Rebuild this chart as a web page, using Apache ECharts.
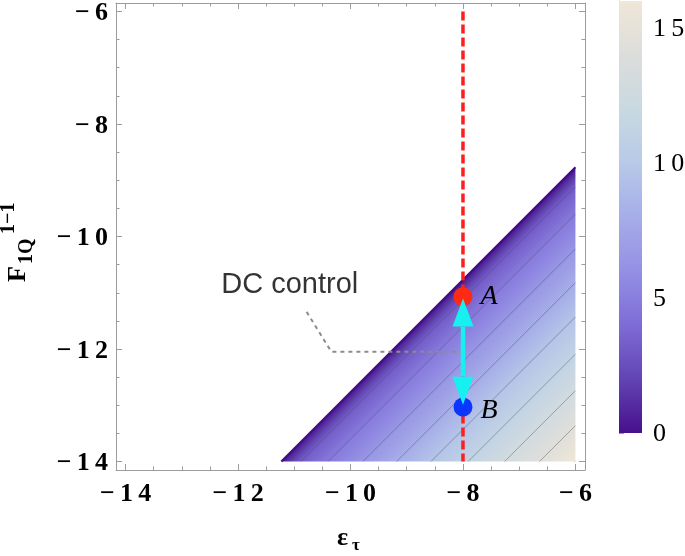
<!DOCTYPE html>
<html><head><meta charset="utf-8">
<script src="https://cdn.jsdelivr.net/npm/echarts@6/dist/echarts.min.js"></script>
<style>html,body{margin:0;padding:0;background:#fff}#main{width:685px;height:556px}</style>
</head><body><div id="main"></div>
<script>
// ---------- data ----------
const xMajorTicks = [-14, -12, -10, -8, -6];
const xMinorTicks = [-13.5, -13, -12.5, -11.5, -11, -10.5, -9.5, -9, -8.5, -7.5, -7, -6.5];
const yMajorTicks = [-14, -12, -10, -8, -6];
const yMinorTicks = [-13.5, -13, -12.5, -11.5, -11, -10.5, -9.5, -9, -8.5, -7.5, -7, -6.5];
const colorbarTicks = [0, 5, 10, 15];
const colorbarMinorTicks = [1, 2, 3, 4, 6, 7, 8, 9, 11, 12, 13, 14, 16];
// filled (allowed) region: triangle below the boundary line
const regionX = [-11.23, -6, -6];
const regionY = [-14, -8.77, -14];
// contour lines: value, x where it meets y=-14, y where it meets x=-6
const contourLevels = [1.6, 3.2, 4.8, 6.4, 8.0, 9.6, 11.2, 12.8, 14.4, 16.0];
const contourStartX = [-11.08, -10.88, -10.40, -9.78, -9.18, -8.57, -7.91, -7.26, -6.64, -6.01];
const contourEndY = [-8.92, -9.12, -9.60, -10.22, -10.82, -11.43, -12.09, -12.74, -13.36, -13.99];
// colour scale
const colorValues = [0, 2, 4, 6, 8, 10, 12, 14, 16];
const colorList = ['#48108c', '#6244b4', '#7e6cd6', '#9490e4', '#a6ade8', '#b7cae8', '#c9d9e1', '#dcdddb', '#efe7d7'];
// annotations
const pointA = [-8, -11.07];
const pointB = [-8, -13.03];
const criticalLineX = [-8, -8];
const criticalLineY = [-6, -14];
const arrowX = [-8, -8];
const arrowY = [-11.1, -12.99];
const leaderX = [-10.78, -10.34, -8];
const leaderY = [-11.34, -12.05, -12.05];
const dcLabelPos = [-11.08, -10.86];

// ---------- helpers ----------
function hexToRgb(h) { return [parseInt(h.substr(1,2),16), parseInt(h.substr(3,2),16), parseInt(h.substr(5,2),16)]; }
function cmap(v) {
  if (v <= colorValues[0]) return colorList[0];
  for (let i = 1; i < colorValues.length; i++) {
    if (v <= colorValues[i]) {
      const t = (v - colorValues[i-1]) / (colorValues[i] - colorValues[i-1]);
      const a = hexToRgb(colorList[i-1]), b = hexToRgb(colorList[i]);
      return 'rgb(' + a.map((c, j) => Math.round(c + (b[j]-c)*t)).join(',') + ')';
    }
  }
  return colorList[colorList.length-1];
}
const fmt = v => ((v < 0 ? '\u2212' : '') + Math.abs(v)).split('').join('\u2009');
const FRAME = '#9c9c9c';
const serif = 'Liberation Serif';
const BOLD26 = 'bold 26px "Liberation Serif"';
const REG26 = '26px "Liberation Serif"';

function renderField(params, api) {
  const pts = regionX.map((x, i) => api.coord([x, regionY[i]]));
  const base = regionX[0] - regionY[0];
  const D = (regionX[2] - regionY[2]) - base;
  const xb = regionX[1], yb = regionY[1];
  const p0 = api.coord([xb, yb]);
  const p1 = api.coord([xb + D/2, yb - D/2]);
  const stops = [{offset: 0, color: cmap(0)}];
  contourStartX.forEach((x0, k) => {
    const d = (x0 - regionY[0]) - base;
    stops.push({offset: Math.min(1, d / D), color: cmap(contourLevels[k])});
  });
  stops.push({offset: 1, color: cmap(contourLevels[contourLevels.length-1])});
  return {type: 'polygon', shape: {points: pts},
    style: {fill: new echarts.graphic.LinearGradient(p0[0], p0[1], p1[0], p1[1], stops, true)}};
}
function renderColorbar(params, api) {
  const p0 = api.coord([0, colorValues[0]]);
  const p1 = api.coord([1, colorValues[colorValues.length-1]]);
  const maxV = colorValues[colorValues.length-1];
  const stops = colorValues.map((v, i) => ({offset: v / maxV, color: colorList[i]}));
  return {type: 'rect', shape: {x: p0[0], y: p1[1], width: p1[0]-p0[0], height: p0[1]-p1[1]},
    style: {fill: new echarts.graphic.LinearGradient(0, 1, 0, 0, stops)}};
}
function renderArrow(params, api) {
  const a = api.coord([arrowX[0], arrowY[0]]);
  const b = api.coord([arrowX[1], arrowY[1]]);
  const dx = b[0]-a[0], dy = b[1]-a[1], len = Math.sqrt(dx*dx+dy*dy);
  const ux = dx/len, uy = dy/len, px = -uy, py = ux;
  const L = 28, W = 10.5;
  const a2 = [a[0]+ux*L, a[1]+uy*L], b2 = [b[0]-ux*L, b[1]-uy*L];
  const col = '#17f0f0';
  return {type: 'group', children: [
    {type: 'line', shape: {x1: a2[0], y1: a2[1], x2: b2[0], y2: b2[1]}, style: {stroke: col, lineWidth: 4.5}},
    {type: 'polygon', shape: {points: [a, [a2[0]+px*W, a2[1]+py*W], [a2[0]-px*W, a2[1]-py*W]]}, style: {fill: col}},
    {type: 'polygon', shape: {points: [b, [b2[0]+px*W, b2[1]+py*W], [b2[0]-px*W, b2[1]-py*W]]}, style: {fill: col}}
  ]};
}

const XR = {min: -14.17, max: -5.83};
const YR = {min: -14.15, max: -5.85};
function xAx(pos, ticks, len) {
  return Object.assign({type: 'value', gridIndex: 0, position: pos}, XR, {
    axisLine: {show: len > 5, onZero: false, lineStyle: {color: FRAME, width: 1}},
    axisTick: {show: true, inside: true, length: len, customValues: ticks, lineStyle: {color: FRAME}},
    axisLabel: {show: false}, splitLine: {show: false}});
}
function yAx(pos, ticks, len) {
  return Object.assign({type: 'value', gridIndex: 0, position: pos}, YR, {
    axisLine: {show: len > 5, onZero: false, lineStyle: {color: FRAME, width: 1}},
    axisTick: {show: true, inside: true, length: len, customValues: ticks, lineStyle: {color: FRAME}},
    axisLabel: {show: false}, splitLine: {show: false}});
}

const chart = echarts.init(document.getElementById('main'), null, {renderer: 'canvas'});
const option = {
  animation: false,
  backgroundColor: '#fff',
  grid: [
    {left: 116, top: 3, width: 469, height: 467},
    {left: 619, top: 1, width: 23, height: 432}
  ],
  xAxis: [
    xAx('bottom', xMajorTicks, 6),
    xAx('bottom', xMinorTicks, 3.5),
    xAx('top', xMajorTicks, 6),
    xAx('top', xMinorTicks, 3.5),
    {type: 'value', gridIndex: 1, min: 0, max: 1, show: false}
  ],
  yAxis: [
    yAx('left', yMajorTicks, 6),
    yAx('left', yMinorTicks, 3.5),
    yAx('right', yMajorTicks, 6),
    yAx('right', yMinorTicks, 3.5),
    {type: 'value', gridIndex: 1, position: 'right', min: 0, max: 16,
      axisLine: {show: true, lineStyle: {color: '#b0b0b0'}},
      axisTick: {show: true, inside: false, length: 5, customValues: colorbarTicks, lineStyle: {color: '#999'}},
      axisLabel: {show: false}, splitLine: {show: false}},
    {type: 'value', gridIndex: 1, position: 'right', min: 0, max: 16,
      axisLine: {show: false},
      axisTick: {show: true, inside: true, length: 4, customValues: colorbarMinorTicks, lineStyle: {color: 'rgba(150,150,150,0.5)'}},
      axisLabel: {show: false}, splitLine: {show: false}}
  ],
  series: [
    {type: 'custom', name: 'field', xAxisIndex: 0, yAxisIndex: 0, z: 1,
      data: [[regionX[0], regionY[0]]], renderItem: renderField, silent: true},
    {type: 'lines', coordinateSystem: 'cartesian2d', xAxisIndex: 0, yAxisIndex: 0, z: 2, silent: true,
      lineStyle: {color: 'rgba(70,70,90,0.42)', width: 1, opacity: 1},
      data: contourStartX.map((x0, k) => ({coords: [[x0, regionY[0]], [regionX[1], contourEndY[k]]]}))},
    {type: 'line', z: 3, silent: true, showSymbol: false, symbol: 'none',
      lineStyle: {color: '#3e0c86', width: 2},
      data: [[regionX[0], regionY[0]], [regionX[1], regionY[1]]]},
    {type: 'line', z: 4, silent: true, symbol: 'none',
      lineStyle: {color: '#ff1e1e', width: 3.5, type: [9, 4]},
      data: criticalLineX.map((x, i) => [x, criticalLineY[i]])},
    {type: 'line', z: 4, silent: true, symbol: 'none',
      lineStyle: {color: '#8c8c8c', width: 2, type: [4, 4]},
      data: leaderX.map((x, i) => [x, leaderY[i]])},
    {type: 'scatter', z: 5, silent: true, symbolSize: 19,
      data: [
        {value: pointA, itemStyle: {color: '#ff2a14', opacity: 1},
          label: {show: true, position: 'right', distance: 8, formatter: 'A'}},
        {value: pointB, itemStyle: {color: '#0a36ff', opacity: 1},
          label: {show: true, position: 'right', distance: 8, offset: [0, 4], formatter: 'B'}}
      ],
      label: {fontFamily: serif, fontStyle: 'italic', fontSize: 28, color: '#000'}},
    {type: 'custom', z: 6, silent: true, data: [[arrowX[0], arrowY[0]]], renderItem: renderArrow},
    {type: 'scatter', z: 6, silent: true, symbolSize: 1, itemStyle: {color: 'rgba(0,0,0,0)'},
      data: [dcLabelPos],
      label: {show: true, position: 'inside', formatter: 'DC control', fontFamily: 'Liberation Sans',
        fontSize: 29, color: '#000'}},
    {type: 'custom', name: 'colorbar', xAxisIndex: 4, yAxisIndex: 4, z: 1, silent: true,
      data: [[0, 0]], renderItem: renderColorbar}
  ]
};
chart.setOption(option);

// tick labels placed through the axes' own scales
const graphics = [
  {type: 'group', x: 27, y: 282, rotation: Math.PI / 2, children: [
    {type: 'text', x: 0, y: -8.6, style: {text: 'F', font: BOLD26, fill: '#000', align: 'left', verticalAlign: 'middle'}},
    {type: 'text', x: 18, y: -0.6, style: {text: '1Q', font: 'bold 20px "Liberation Serif"', fill: '#000', align: 'left', verticalAlign: 'middle'}},
    {type: 'text', x: 48, y: -18.6, style: {text: '1\u22121', font: 'bold 20px "Liberation Serif"', fill: '#000', align: 'left', verticalAlign: 'middle'}}
  ]},
  {type: 'text', x: 337, y: 538, style: {text: '\u03b5', font: BOLD26, fill: '#000', align: 'left', verticalAlign: 'middle'}},
  {type: 'text', x: 352, y: 546, style: {text: '\u03c4', font: 'bold 17px "Liberation Serif"', fill: '#000', align: 'left', verticalAlign: 'middle'}}
];
xMajorTicks.forEach(v => {
  const p = chart.convertToPixel({xAxisIndex: 0, yAxisIndex: 0}, [v, YR.min]);
  graphics.push({type: 'text', x: p[0], y: p[1] + 24, z: 10,
    style: {text: fmt(v), font: BOLD26, fill: '#000', align: 'center', verticalAlign: 'middle'}});
});
yMajorTicks.forEach(v => {
  const p = chart.convertToPixel({xAxisIndex: 0, yAxisIndex: 0}, [XR.min, v]);
  graphics.push({type: 'text', x: p[0] - 8, y: p[1] + 2, z: 10,
    style: {text: fmt(v), font: BOLD26, fill: '#000', align: 'right', verticalAlign: 'middle'}});
});
colorbarTicks.forEach(v => {
  const p = chart.convertToPixel({xAxisIndex: 4, yAxisIndex: 4}, [1, v]);
  graphics.push({type: 'text', x: p[0] + 11, y: p[1] + 1, z: 10,
    style: {text: fmt(v), font: REG26, fill: '#000', align: 'left', verticalAlign: 'middle'}});
});
chart.setOption({graphic: graphics});
</script></body></html>
